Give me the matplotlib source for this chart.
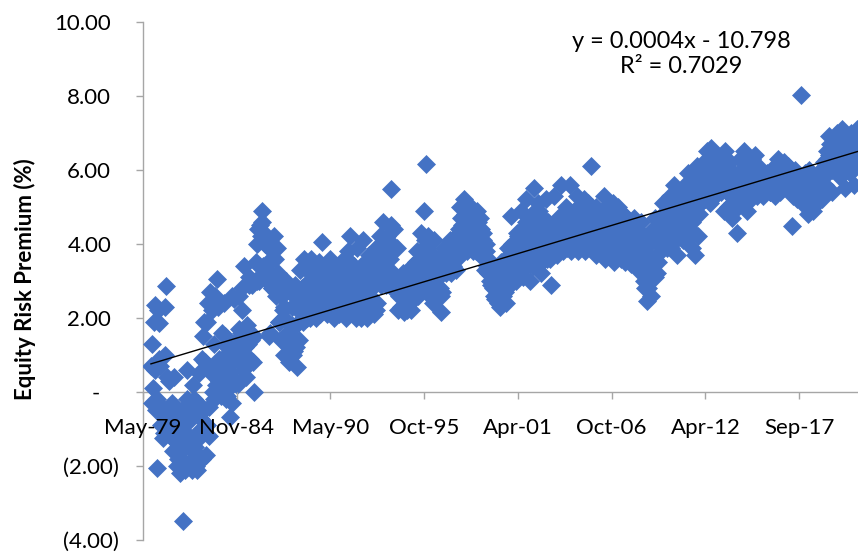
import datetime as dt

import numpy as np
import pandas as pd
import matplotlib
matplotlib.use("Agg")
import matplotlib.pyplot as plt
from matplotlib.ticker import FixedLocator, FuncFormatter
from matplotlib.transforms import ScaledTranslation

# Equity risk premium (%), two readings per month (mid-month, month-end),
# starting November 1979.
first_month = "1979-11"
erp_pct = [
    0.7, 1.3, -0.3, 0.1,                                                                      # 1979
    1.9, 2.35, 0.6, -0.5, -0.2, -2.06, 2.2, 1.85, 0.9, 0.7, -0.9, -0.4,
    -0.6, -1.25, -1.1, 1.0, 2.3, 2.87, 0.4, -0.8, -0.5, 0.3, -1.0, -1.2,                      # 1980
    -0.5, -0.9, -0.3, -1.6, -1.3, 0.4, -0.4, -1.0, -0.6, -2.0, -1.8, -1.3,
    -1.0, -2.2, -1.6, -0.5, -0.9, -3.5, -1.4, -1.9, -2.1, -1.1, -0.2, 0.6,                    # 1981
    -0.8, -1.5, -1.9, -0.4, -0.6, -2.1, -1.3, 0.2, -0.2, -1.6, -1.5, -2.0,
    -2.1, -1.1, -0.3, 0.5, -0.5, -0.7, -1.2, -1.8, 0.9, 1.5, 1.9, -0.5,                       # 1982
    0.8, -1.7, -0.9, 1.9, 2.4, -1.2, -0.4, 2.7, 0.5, 0.6, 2.2, 0.0,
    -0.2, 1.3, 2.6, 0.2, 0.7, 3.06, 2.3, 0.9, 0.3, 0.1, -0.1, 1.6,                            # 1983
    0.9, 0.4, 0.9, 2.4, 1.5, -0.2, -0.1, 1.2, 0.6, 0.1, 0.5, -0.68,
    1.0, -0.3, 2.6, 0.8, 1.1, 2.5, 1.2, 0.3, 0.2, 1.4, 0.9, 2.6,                              # 1984
    1.7, 1.0, 1.6, 2.8, 2.2, 0.6, 1.3, 3.4, 1.2, 0.4, 0.9, 1.8,
    1.3, 3.1, 2.9, 0.9, 1.4, 3.0, 2.9, 0.8, 1.5, 0.0, 3.0, 3.5,                               # 1985
    3.0, 4.0, 4.4, 3.0, 3.4, 4.5, 4.2, 4.88, 4.6, 3.4, 3.2, 4.3,
    4.0, 3.2, 3.0, 3.1, 3.3, 3.9, 1.5, 1.6, 3.6, 2.8, 2.8, 3.8,                               # 1986
    3.1, 4.2, 3.6, 2.6, 2.7, 3.9, 3.2, 1.9, 1.9, 2.9, 2.6, 1.4,
    1.4, 2.2, 2.3, 1.0, 1.5, 2.7, 3.0, 1.6, 1.9, 0.8, 0.9, 1.2,                               # 1987
    1.5, 2.3, 1.8, 1.0, 1.1, 2.6, 2.9, 1.8, 1.2, 0.68, 2.3, 1.4,
    1.9, 3.3, 2.7, 2.1, 2.8, 1.9, 2.3, 3.6, 2.9, 2.4, 3.3, 2.0,                               # 1988
    3.3, 2.8, 2.5, 2.0, 3.0, 3.6, 3.3, 2.3, 2.4, 3.0, 2.9, 2.0,
    3.1, 2.6, 2.2, 3.5, 3.0, 2.1, 2.5, 4.05, 3.4, 2.7, 2.9, 2.2,                              # 1989
    2.5, 3.0, 3.3, 2.1, 2.2, 2.6, 3.0, 3.6, 3.4, 2.2, 2.4, 2.8,
    3.1, 2.0, 2.8, 2.4, 2.5, 3.3, 3.0, 2.1, 2.3, 2.6, 2.9, 3.5,                               # 1990
    3.0, 2.3, 2.3, 3.0, 2.6, 2.0, 3.0, 3.6, 3.8, 2.5, 2.8, 4.2,
    3.3, 2.7, 2.6, 2.1, 2.3, 3.4, 3.1, 2.0, 2.4, 3.9, 3.3, 2.6,                               # 1991
    2.6, 3.2, 3.4, 2.0, 2.9, 4.1, 3.2, 2.4, 2.2, 2.9, 3.2, 2.0,
    2.5, 3.7, 3.6, 2.6, 3.0, 2.2, 2.4, 3.3, 3.5, 2.1, 2.9, 3.9,                               # 1992
    2.2, 2.4, 3.7, 3.1, 3.4, 4.2, 3.8, 2.9, 3.1, 4.6, 4.0, 3.3,
    3.6, 2.9, 3.2, 4.2, 3.9, 3.0, 3.0, 3.6, 4.5, 5.47, 4.0, 3.2,                              # 1993
    3.9, 4.4, 3.1, 2.7, 3.1, 3.9, 3.0, 2.2, 2.6, 3.0, 2.9, 2.3,
    2.7, 3.2, 3.0, 2.15, 2.8, 2.6, 2.8, 2.2, 2.5, 2.9, 3.0, 2.4,                              # 1994
    3.0, 2.2, 3.4, 2.7, 3.1, 2.6, 2.7, 3.2, 3.5, 3.8, 3.2, 2.6,
    2.9, 3.4, 3.8, 4.3, 3.6, 2.8, 3.3, 4.88, 4.1, 6.15, 3.8, 3.0,                             # 1995
    4.2, 3.8, 3.3, 2.6, 3.0, 3.4, 3.7, 2.4, 3.2, 4.1, 3.6, 2.9,
    3.2, 2.6, 2.8, 3.6, 3.3, 2.8, 2.6, 2.15, 2.7, 3.2, 3.5, 3.9,                              # 1996
    3.6, 3.2, 3.4, 3.7, 3.9, 3.3, 3.5, 4.1, 3.7, 3.2, 4.0, 3.5,
    3.4, 3.8, 3.9, 3.3, 4.1, 3.6, 3.8, 4.4, 4.3, 5.0, 4.7, 3.9,                               # 1997
    4.5, 3.8, 4.0, 5.2, 4.8, 4.1, 4.4, 3.8, 4.1, 4.6, 4.3, 3.9,
    4.2, 5.0, 4.6, 3.8, 4.0, 4.3, 4.2, 3.8, 4.2, 4.9, 4.6, 4.0,                               # 1998
    4.2, 4.7, 4.4, 3.9, 3.7, 4.3, 4.1, 3.6, 3.3, 4.0, 3.8, 3.4,
    3.2, 3.6, 3.5, 3.0, 2.9, 3.4, 3.2, 2.8, 3.0, 2.6, 2.5, 3.2,                               # 1999
    2.8, 2.5, 2.4, 2.9, 2.7, 2.3, 3.1, 3.5, 2.9, 2.6, 3.4, 3.0,
    2.7, 2.4, 3.3, 2.8, 3.4, 3.9, 3.7, 3.2, 3.5, 4.75, 4.0, 3.6,                              # 2000
    3.9, 3.8, 3.6, 3.0, 3.9, 4.3, 4.2, 3.3, 3.4, 3.7, 4.2, 4.9,
    4.4, 3.1, 3.6, 4.0, 4.1, 5.2, 4.6, 3.4, 3.7, 4.4, 4.1, 3.0,                               # 2001
    3.5, 4.5, 4.8, 3.4, 4.2, 5.5, 4.7, 3.9, 4.4, 3.6, 3.8, 5.1,
    4.9, 4.2, 4.0, 3.2, 3.5, 4.7, 4.4, 3.8, 4.0, 5.2, 4.6, 3.6,                               # 2002
    4.6, 4.2, 4.0, 3.6, 3.7, 2.9, 3.8, 4.5, 4.3, 5.3, 4.5, 3.9,
    4.6, 3.7, 4.2, 4.7, 4.7, 4.0, 4.5, 5.6, 4.7, 3.8, 4.0, 4.3,                               # 2003
    4.4, 5.0, 4.9, 3.9, 4.2, 4.5, 4.9, 5.6, 4.6, 3.8, 4.7, 4.2,
    4.3, 4.9, 4.6, 4.0, 4.5, 5.3, 4.9, 3.8, 4.1, 4.4, 5.0, 4.8,                               # 2004
    4.6, 4.0, 4.3, 5.2, 4.9, 3.8, 4.1, 4.4, 5.1, 4.8, 4.5, 3.9,
    4.3, 6.1, 5.0, 4.1, 4.4, 4.9, 4.6, 3.7, 5.0, 4.3, 4.2, 4.9,                               # 2005
    4.5, 3.9, 4.1, 4.8, 4.9, 4.2, 3.9, 5.3, 4.7, 3.6, 4.0, 4.5,
    4.3, 5.0, 4.8, 3.8, 3.7, 4.4, 4.2, 5.1, 4.6, 3.5, 3.9, 4.6,                               # 2006
    4.5, 4.0, 3.7, 5.0, 4.7, 4.4, 4.2, 3.6, 3.9, 4.8, 4.5, 4.1,
    4.0, 3.5, 3.8, 4.7, 4.4, 3.9, 3.7, 4.5, 4.1, 3.45, 3.6, 4.3,                              # 2007
    3.9, 4.7, 4.3, 3.6, 3.9, 4.4, 4.0, 3.3, 3.6, 4.0, 4.3, 4.6,
    3.9, 3.5, 3.3, 3.0, 2.8, 3.9, 3.2, 2.45, 2.8, 3.4, 3.7, 4.2,                              # 2008
    3.1, 2.6, 3.5, 4.4, 4.1, 3.6, 3.1, 4.7, 4.2, 3.2, 3.5, 4.0,
    4.3, 4.6, 4.4, 3.8, 4.5, 5.1, 4.8, 4.2, 4.0, 4.7, 4.5, 3.9,                               # 2009
    4.2, 4.6, 4.9, 5.3, 4.5, 3.9, 4.3, 5.0, 5.2, 5.6, 4.9, 4.3,
    4.1, 3.7, 4.4, 5.0, 5.2, 4.7, 4.5, 5.4, 4.8, 4.1, 4.4, 4.8,                               # 2010
    5.2, 5.6, 5.5, 5.1, 4.8, 5.9, 5.3, 4.7, 4.4, 5.4, 4.6, 3.9,
    4.3, 5.8, 5.2, 3.7, 5.5, 6.1, 5.0, 4.2, 4.8, 5.6, 5.9, 5.2,                               # 2011
    6.0, 5.6, 5.4, 6.2, 5.9, 5.2, 5.6, 6.5, 6.2, 5.8, 5.5, 5.1,
    5.9, 6.6, 6.3, 5.5, 5.4, 6.0, 6.1, 5.3, 5.5, 6.4, 6.0, 5.7,                               # 2012
    5.9, 6.3, 6.0, 5.4, 5.6, 6.0, 5.5, 4.9, 5.7, 6.5, 6.1, 5.6,
    5.4, 5.0, 5.6, 6.2, 5.9, 5.3, 5.1, 4.7, 5.4, 5.9, 5.6, 5.2,                               # 2013
    5.0, 4.3, 5.0, 5.7, 5.9, 6.3, 5.6, 5.1, 5.4, 6.0, 6.2, 6.5,
    5.9, 5.4, 5.2, 4.9, 5.6, 6.2, 6.0, 5.7, 5.5, 5.2, 5.8, 6.3,                               # 2014
    6.2, 5.9, 5.7, 6.4, 6.1, 5.5, 5.3, 6.1, 5.9, 5.6, 5.5, 5.8,
    5.7, 5.4, 5.3, 5.8, 5.7, 5.5, 5.5, 5.9, 5.8, 5.6, 5.6, 5.4,                               # 2015
    5.4, 5.7, 5.6, 5.9, 5.8, 5.5, 5.3, 6.1, 6.0, 5.8, 5.6, 6.3,
    5.9, 5.4, 5.6, 6.0, 5.9, 5.6, 5.5, 6.2, 6.0, 5.8, 5.9, 5.5,                               # 2016
    5.6, 6.1, 5.9, 5.8, 5.5, 6.0, 5.7, 4.47, 5.3, 5.6, 5.7, 6.0,
    5.9, 5.4, 5.2, 5.8, 5.6, 5.3, 5.5, 8.02, 5.1, 5.7, 5.5, 5.2,                              # 2017
    5.5, 5.9, 5.8, 5.5, 5.4, 4.8, 5.2, 6.0, 5.9, 5.6, 5.5, 5.2,
    4.9, 5.8, 5.7, 5.4, 5.5, 5.1, 5.3, 5.9, 5.9, 5.6, 5.7, 5.3,                               # 2018
    5.2, 5.5, 5.8, 6.0, 6.2, 5.6, 5.9, 6.5, 6.3, 5.9, 6.4, 6.9,
    6.7, 6.2, 6.0, 5.4, 6.2, 6.7, 6.5, 6.0, 6.3, 7.0, 6.8, 6.4,                               # 2019
    6.4, 5.8, 6.2, 6.8, 6.6, 7.1, 6.9, 6.3, 6.0, 5.5, 6.4, 6.9,
    6.2, 6.6, 6.5, 5.9, 6.3, 7.0, 6.8, 6.4, 6.1, 5.6, 6.4, 6.8,                               # 2020
    6.6, 7.1, 6.9, 6.5, 6.3, 6.9,                                                             # 2021
]

# Axis settings (x in spreadsheet serial days)
x_min, x_max, x_step, x_last_tick = 29000, 44255, 2000, 43000
y_ticks = [-4, -2, 0, 2, 4, 6, 8, 10]
y_tick_labels = ["(4.00)", "(2.00)", "-", "2.00", "4.00", "6.00", "8.00", "10.00"]
y_label = "Equity Risk Premium (%)"
trend_text = "y = 0.0004x - 10.798"
r2_text = "R\u00b2 = 0.7029"

BLUE = "#4472C4"
AXIS_GREY = "#A6A6A6"

plt.rcParams["font.family"] = ["Lato", "DejaVu Sans"]

# Observation dates: the 15th and the last day of each month
n_months = len(erp_pct) // 2
months = pd.period_range(first_month, periods=n_months, freq="M")
mid = months.to_timestamp() + pd.Timedelta(days=14)
end = months.to_timestamp(how="end").normalize()
obs_dates = pd.DatetimeIndex(np.column_stack([mid.values, end.values]).ravel())
serial_epoch = pd.Timestamp("1899-12-30")
x = (obs_dates - serial_epoch).days.values.astype(float)
y = np.array(erp_pct, dtype=float)

W, H = 858, 552
fig = plt.figure(figsize=(W / 100, H / 100), dpi=100)
left_px, top_px, bottom_px = 142.8, 21.7, 540.0
ax = fig.add_axes([left_px / W, (H - bottom_px) / H, 1 - left_px / W,
                   (bottom_px - top_px) / H])

ax.plot(x, y, ls="none", marker="D", ms=9.4, mfc=BLUE, mec=BLUE, mew=0.5, zorder=2)

# Linear trend through the series
coef = np.polyfit(x, y, 1)
xt = np.array([x.min(), x.max()])
ax.plot(xt, np.polyval(coef, xt), color="black", lw=1.0, zorder=3)

ax.set_xlim(x_min, x_max)
ax.set_ylim(-4, 10)

for side in ("top", "right"):
    ax.spines[side].set_visible(False)
for side in ("left", "bottom"):
    ax.spines[side].set_color(AXIS_GREY)
    ax.spines[side].set_linewidth(1.0)
    ax.spines[side].set_zorder(1)
ax.spines["bottom"].set_position(("data", 0))


def serial_to_label(v, pos=None):
    d = dt.datetime(1899, 12, 30) + dt.timedelta(days=float(v))
    return d.strftime("%b-%y")


ax.xaxis.set_major_locator(FixedLocator(np.arange(x_min, x_last_tick + 1, x_step)))
ax.xaxis.set_major_formatter(FuncFormatter(serial_to_label))
ax.set_yticks(y_ticks, labels=y_tick_labels)

ax.tick_params(axis="both", direction="out", length=5, width=1.0, color=AXIS_GREY,
               labelsize=16, labelcolor="black")
ax.tick_params(axis="x", pad=14)
ax.tick_params(axis="y", pad=12)

# Axis labels sit on top of the markers
ax.xaxis.set_zorder(4)
ax.yaxis.set_zorder(4)

# Accounting-style alignment of the value labels
for tick, lab in zip(ax.yaxis.get_major_ticks(), y_tick_labels):
    if lab.startswith("("):
        dx = 0
    elif lab == "-":
        dx = -19
    else:
        dx = -8
    tick.label1.set_transform(tick.label1.get_transform()
                              + ScaledTranslation(dx / 100, 0, fig.dpi_scale_trans))

fig.text(25 / W, 1 - 279 / H, y_label, rotation=90, ha="center", va="center",
         fontsize=16, fontweight="bold")

fig.text(681 / W, 1 - 48.3 / H, trend_text, ha="center", va="baseline", fontsize=17)
fig.text(681 / W, 1 - 73.3 / H, r2_text, ha="center", va="baseline", fontsize=17)

fig.savefig("out.png", dpi=100)
